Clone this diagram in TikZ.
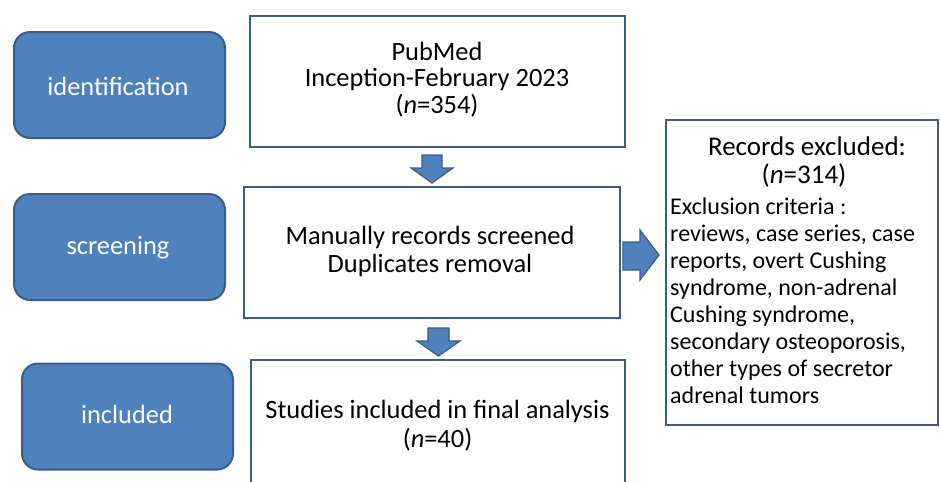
\documentclass[tikz,border=0pt]{standalone}
\usepackage{fontspec}
\setmainfont{Carlito}
\definecolor{fillblue}{HTML}{4F81BD}
\definecolor{edgeblue}{HTML}{385D8A}
\begin{document}
\begin{tikzpicture}[x=1pt,y=-1pt,
  stage/.style={draw=edgeblue,fill=fillblue,line width=2pt,rounded corners=16pt,
    minimum width=211pt,minimum height=106pt,inner sep=0pt},
  stagetxt/.style={inner sep=0pt,anchor=base,text=white,font=\fontsize{26.4}{30}\selectfont},
  flowbox/.style={draw=edgeblue,line width=2pt,fill=white,inner sep=0pt},
  boxtxt/.style={inner sep=0pt,anchor=base,font=\fontsize{26.4}{30}\selectfont},
  titletxt/.style={inner sep=0pt,anchor=base,font=\fontsize{27}{30}\selectfont},
  bodytxt/.style={inner sep=0pt,anchor=base west,font=\fontsize{24}{27}\selectfont},
  blockarrow/.style={draw=edgeblue,fill=fillblue,line width=1.2pt,line join=miter}
]
\useasboundingbox (0,0) rectangle (940,482);
\fill[white] (0,0) rectangle (940,482);
\clip (0,0) rectangle (940,482);

% stage labels
\node[stage] (ident) at (119.5,85) {};
\node[stagetxt] (identt) at (118,95) {identification};
\node[stage] (screen) at (119.5,247) {};
\node[stagetxt] (screent) at (118,254) {screening};
\node[stage] (incl) at (127.5,416.5) {};
\node[stagetxt] (inclt) at (127,423) {included};

% flow boxes
\node[flowbox,minimum width=375pt,minimum height=131pt] (b1) at (437.5,81.5) {};
\node[boxtxt] (b1a) at (437,60) {PubMed};
\node[boxtxt] (b1b) at (437,86.5) {Inception-February 2023};
\node[boxtxt] (b1c) at (437,113) {(\textit{n}=354)};

\node[flowbox,minimum width=376pt,minimum height=131pt] (b2) at (432,252.5) {};
\node[boxtxt] (b2a) at (430,244) {Manually records screened};
\node[boxtxt] (b2b) at (430,272) {Duplicates removal};

\node[flowbox,minimum width=374pt,minimum height=140pt] (b3) at (438,430) {};
\node[boxtxt] (b3a) at (437.5,418) {Studies included in final analysis};
\node[boxtxt] (b3b) at (437.5,447) {(\textit{n}=40)};

% excluded box
\node[flowbox,minimum width=272pt,minimum height=305pt] (excl) at (802,272.5) {};
\node[titletxt] (ex1) at (807,155) {Records excluded:};
\node[titletxt] (ex2) at (804,183) {(\textit{n}=314)};
\node[bodytxt] (ex3) at (670,214) {Exclusion criteria :};
\node[bodytxt] (ex4) at (670,241) {reviews, case series, case};
\node[bodytxt] (ex5) at (670,268) {reports, overt Cushing};
\node[bodytxt] (ex6) at (670,295) {syndrome, non-adrenal};
\node[bodytxt] (ex7) at (670,322) {Cushing syndrome,};
\node[bodytxt] (ex8) at (670,349) {secondary osteoporosis,};
\node[bodytxt] (ex9) at (670,376) {other types of secretor};
\node[bodytxt] (ex10) at (670,403) {adrenal tumors};

% block arrows
\draw[blockarrow] (422,155) -- (442,155) -- (442,168) -- (453,168) -- (432,183)
  -- (411,168) -- (422,168) -- cycle;
\draw[blockarrow] (428,328) -- (449,328) -- (449,341) -- (460,341) -- (438.5,356)
  -- (417,341) -- (428,341) -- cycle;
\draw[blockarrow] (623,242) -- (640,242) -- (640,230) -- (659,255) -- (640,280)
  -- (640,270) -- (623,270) -- cycle;
\end{tikzpicture}
\end{document}
